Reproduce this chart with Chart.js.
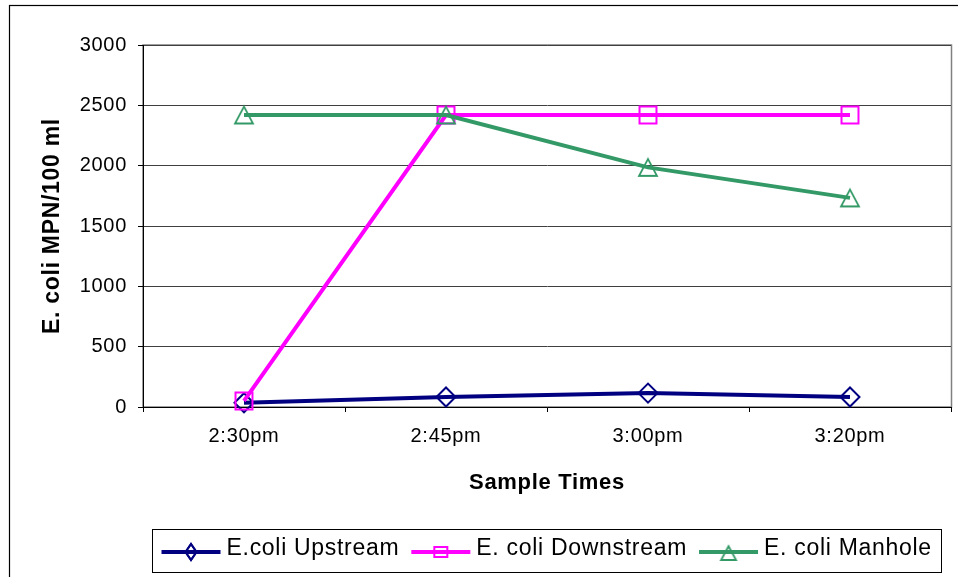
<!DOCTYPE html>
<html>
<head>
<meta charset="utf-8">
<script src="https://cdn.jsdelivr.net/npm/chart.js@4/dist/chart.umd.min.js"></script>
<style>
  html, body { margin: 0; padding: 0; background: #fff; overflow: hidden; }
  canvas { display: block; }
</style>
</head>
<body>
<canvas id="chart" width="958" height="577"></canvas>
<script>
// E. coli counts (MPN per 100 ml) at each sampling time
const sampleTimes = ['2:30pm', '2:45pm', '3:00pm', '3:20pm'];
const upstreamMPN = [35, 83, 115, 83];
const downstreamMPN = [50, 2420, 2420, 2420];
const manholeMPN = [2420, 2420, 1986, 1733];
const seriesNames = ['E.coli Upstream', 'E. coli Downstream', 'E. coli Manhole'];
const yAxisTitle = 'E. coli MPN/100 ml';
const xAxisTitle = 'Sample Times';
const yAxisMin = 0;
const yAxisMax = 3000;
const yAxisStep = 500;

const FONT = "'Liberation Sans', Arial, Helvetica, sans-serif";
const NAVY = '#000080';
const MAGENTA = '#FF00FF';
const GREEN = '#339966';

// Hollow triangle marker, centred on its bounding box
function triangleMarker(w, h, apexY, baseY, halfBase, lw) {
  const c = document.createElement('canvas');
  c.width = w;
  c.height = h;
  const g = c.getContext('2d');
  g.strokeStyle = GREEN;
  g.lineWidth = lw;
  g.lineJoin = 'miter';
  g.beginPath();
  g.moveTo(w / 2, apexY);
  g.lineTo(w / 2 + halfBase, baseY);
  g.lineTo(w / 2 - halfBase, baseY);
  g.closePath();
  g.stroke();
  return c;
}
const triPoint = triangleMarker(24, 23, 3.2, 20, 9, 1.8);
const triKey = triangleMarker(22, 20, 3.2, 17, 7.5, 1.8);

// White background, outer frame and the plot-area outline
const framePlugin = {
  id: 'frame',
  beforeDraw(chart) {
    const {ctx, chartArea: a} = chart;
    ctx.save();
    ctx.fillStyle = '#fff';
    ctx.fillRect(0, 0, chart.width, chart.height);
    ctx.strokeStyle = '#000';
    ctx.lineWidth = 1.2;
    ctx.strokeRect(9.5, 5.5, 1200, 1200);
    ctx.strokeStyle = '#808080';
    ctx.lineWidth = 1.5;
    ctx.strokeRect(a.left, a.top, a.right - a.left + 0.5, a.bottom - a.top);
    ctx.restore();
    // slightly wider glyph spacing for all text
    ctx.letterSpacing = '0.7px';
  }
};

// Series key: line sample with marker, then the series name, inside a box
const keyPlugin = {
  id: 'seriesKey',
  afterDraw(chart) {
    const {ctx, chartArea: a} = chart;
    const lineLen = 59, gapText = 6, gapItem = 12, padL = 9, padR = 10;
    const boxTop = 529.5, boxBottom = 572.5, lineY = 552, textY = 549;
    ctx.save();
    ctx.letterSpacing = '0.7px';
    ctx.font = '23px ' + FONT;
    const sets = chart.data.datasets;
    const widths = sets.map(d => ctx.measureText(d.label).width);
    let total = padL + padR + gapItem * (sets.length - 1);
    widths.forEach(w => { total += lineLen + gapText + w; });
    const cx = (a.left + a.right) / 2;
    const boxLeft = Math.round(cx - total / 2) + 0.5;
    ctx.fillStyle = '#fff';
    ctx.fillRect(boxLeft, boxTop, total, boxBottom - boxTop);
    ctx.strokeStyle = '#000';
    ctx.lineWidth = 1;
    ctx.strokeRect(boxLeft, boxTop, Math.round(total), boxBottom - boxTop);

    let x = boxLeft + padL;
    sets.forEach((d, i) => {
      ctx.strokeStyle = d.borderColor;
      ctx.lineWidth = 4;
      ctx.beginPath();
      ctx.moveTo(x, lineY);
      ctx.lineTo(x + lineLen, lineY);
      ctx.stroke();
      const mx = x + lineLen / 2;
      ctx.lineWidth = 2;
      ctx.fillStyle = 'rgba(0,0,0,0)';
      const style = d.keyStyle;
      const H = Chart.helpers;
      if (style === 'rectRot') {
        if (H && H.drawPointLegend) {
          H.drawPointLegend(ctx, {pointStyle: 'rectRot', radius: 8, rotation: 0, borderWidth: 2}, mx, lineY, 11);
        } else {
          ctx.beginPath();
          ctx.moveTo(mx - 5.5, lineY); ctx.lineTo(mx, lineY - 8);
          ctx.lineTo(mx + 5.5, lineY); ctx.lineTo(mx, lineY + 8);
          ctx.closePath();
        }
        ctx.stroke();
      } else if (style === 'rect') {
        ctx.beginPath();
        ctx.rect(mx - 6.5, lineY - 5, 13, 10);
        ctx.stroke();
      } else {
        ctx.drawImage(triKey, mx - triKey.width / 2, lineY - triKey.height / 2 + 1);
      }
      x += lineLen + gapText;
      ctx.fillStyle = '#000';
      ctx.textAlign = 'left';
      ctx.textBaseline = 'middle';
      ctx.fillText(d.label, x, textY);
      x += widths[i] + gapItem;
    });
    ctx.restore();
  }
};

new Chart(document.getElementById('chart'), {
  type: 'line',
  data: {
    labels: sampleTimes,
    datasets: [
      {
        label: seriesNames[0],
        data: upstreamMPN,
        borderColor: NAVY,
        pointBorderColor: NAVY,
        pointStyle: 'rectRot',
        keyStyle: 'rectRot',
        pointRadius: 9.5,
        order: 3
      },
      {
        label: seriesNames[1],
        data: downstreamMPN,
        borderColor: MAGENTA,
        pointBorderColor: MAGENTA,
        pointStyle: 'rect',
        keyStyle: 'rect',
        pointRadius: 12,
        order: 2
      },
      {
        label: seriesNames[2],
        data: manholeMPN,
        borderColor: GREEN,
        pointBorderColor: GREEN,
        pointStyle: triPoint,
        keyStyle: 'triangle',
        pointRadius: 11,
        order: 1
      }
    ]
  },
  options: {
    responsive: false,
    animation: false,
    events: [],
    layout: { autoPadding: false, padding: { left: 0, top: 45, right: 7, bottom: 0 } },
    datasets: {
      line: {
        borderWidth: 4,
        tension: 0,
        fill: false,
        clip: false,
        pointBorderWidth: 2,
        pointBackgroundColor: 'rgba(0,0,0,0)'
      }
    },
    plugins: {
      legend: { display: false },
      tooltip: { enabled: false }
    },
    scales: {
      x: {
        offset: true,
        grid: {
          offset: true,
          drawOnChartArea: false,
          tickLength: 5,
          color: '#000',
          tickColor: '#000'
        },
        border: { color: '#000', width: 1 },
        ticks: {
          padding: 12,
          color: '#000',
          maxRotation: 0,
          autoSkip: false,
          font: { family: FONT, size: 20 }
        },
        title: {
          display: true,
          text: xAxisTitle,
          color: '#000',
          font: { family: FONT, size: 22, weight: 'bold' },
          padding: { top: 0, bottom: 81 }
        },
        afterFit(scale) { scale.height = 170; }
      },
      y: {
        min: yAxisMin,
        max: yAxisMax,
        grid: {
          color: '#404040',
          tickLength: 5,
          tickColor: '#000'
        },
        border: { color: '#000', width: 1 },
        ticks: {
          stepSize: yAxisStep,
          padding: 11,
          color: '#000',
          font: { family: FONT, size: 20 },
          callback: (value) => String(value)
        },
        title: {
          display: true,
          text: yAxisTitle,
          color: '#000',
          font: { family: FONT, size: 23, weight: 'bold' },
          padding: { top: 39, bottom: 0 }
        },
        afterFit(scale) { scale.width = 143; }
      }
    }
  },
  plugins: [framePlugin, keyPlugin]
});
</script>
</body>
</html>
